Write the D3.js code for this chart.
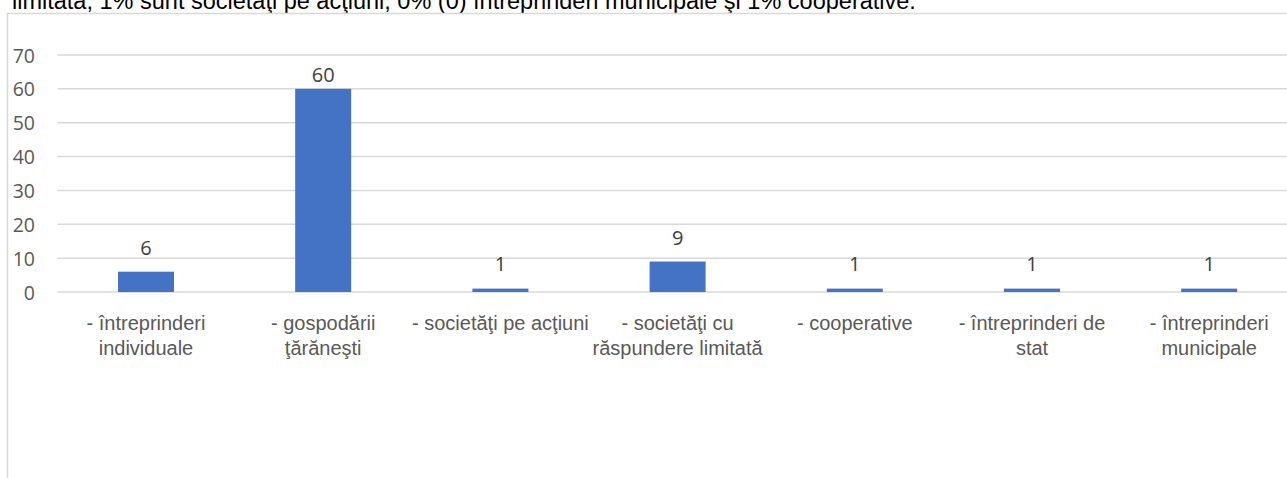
<!DOCTYPE html>
<html><head><meta charset="utf-8">
<script src="https://cdn.jsdelivr.net/npm/d3@7"></script>
<style>html,body{margin:0;padding:0;background:#fff;overflow:hidden}</style>
</head><body>
<svg id="c" width="1287" height="478"></svg>
<script>
const categories = [
  ["- întreprinderi", "individuale"],
  ["- gospodării", "ţărăneşti"],
  ["- societăţi pe acţiuni"],
  ["- societăţi cu", "răspundere limitată"],
  ["- cooperative"],
  ["- întreprinderi de", "stat"],
  ["- întreprinderi", "municipale"]
];
const values = [6, 60, 1, 9, 1, 1, 1];
const yTicks = [0, 10, 20, 30, 40, 50, 60, 70];
const introText = "limitată, 1% sunt societăţi pe acţiuni, 0% (0) întreprinderi municipale şi 1% cooperative.";

const svg = d3.select("#c");
svg.append("text").attr("x", 12).attr("y", 9)
  .attr("font-family", "Liberation Sans, Arial, sans-serif").attr("font-size", 23.5)
  .attr("fill", "#000").text(introText);

// chart frame
svg.append("rect").attr("x", 7.5).attr("y", 13.5).attr("width", 1400).attr("height", 600)
  .attr("fill", "none").attr("stroke", "#d9d9d9").attr("stroke-width", 1.5);

const idx = d3.range(categories.length);
const x = d3.scaleBand().domain(idx).range([57.4, 1297.8]).paddingInner(0.684).paddingOuter(0.342);
const y = d3.scaleLinear().domain([0, 70]).range([292, 55]);
// data-label baseline placement (labels sit on their own slightly compressed scale in the reference)
const yLabel = d3.scaleLinear().domain([0, 70]).range([274, 50]);

// gridlines
svg.append("g").selectAll("line").data(yTicks).join("line")
  .attr("x1", 57.4).attr("x2", 1297.8)
  .attr("y1", d => y(d)).attr("y2", d => y(d))
  .attr("stroke", "#d9d9d9").attr("stroke-width", 1.5);

// y axis labels
const yAxis = d3.axisLeft(y).tickValues(yTicks).tickSize(0).tickPadding(0);
const ya = svg.append("g").attr("transform", "translate(35,0)").call(yAxis);
ya.select(".domain").remove();
ya.selectAll("text").attr("font-family", "Open Sans, sans-serif").attr("font-size", 19.5)
  .attr("fill", "#595959").attr("dy", "0.36em");

// bars
svg.append("g").selectAll("rect").data(values).join("rect")
  .attr("x", (d, i) => x(i)).attr("width", x.bandwidth())
  .attr("y", d => y(d)).attr("height", d => y(0) - y(d))
  .attr("fill", "#4472c4");

// data labels
svg.append("g").selectAll("text").data(values).join("text")
  .attr("x", (d, i) => x(i) + x.bandwidth() / 2).attr("y", d => yLabel(d))
  .attr("text-anchor", "middle").attr("font-family", "Open Sans, sans-serif")
  .attr("font-size", 20).attr("fill", "#404040").text(d => d);

// x labels
const xl = svg.append("g").selectAll("text").data(categories).join("text")
  .attr("text-anchor", "middle").attr("font-family", "Liberation Sans, Arial, sans-serif")
  .attr("font-size", 20).attr("fill", "#595959");
xl.each(function(lines, i) {
  const t = d3.select(this);
  lines.forEach((ln, j) => {
    t.append("tspan").attr("x", x(i) + x.bandwidth() / 2).attr("y", 329.5 + j * 25.5).text(ln);
  });
});
</script>
</body></html>
